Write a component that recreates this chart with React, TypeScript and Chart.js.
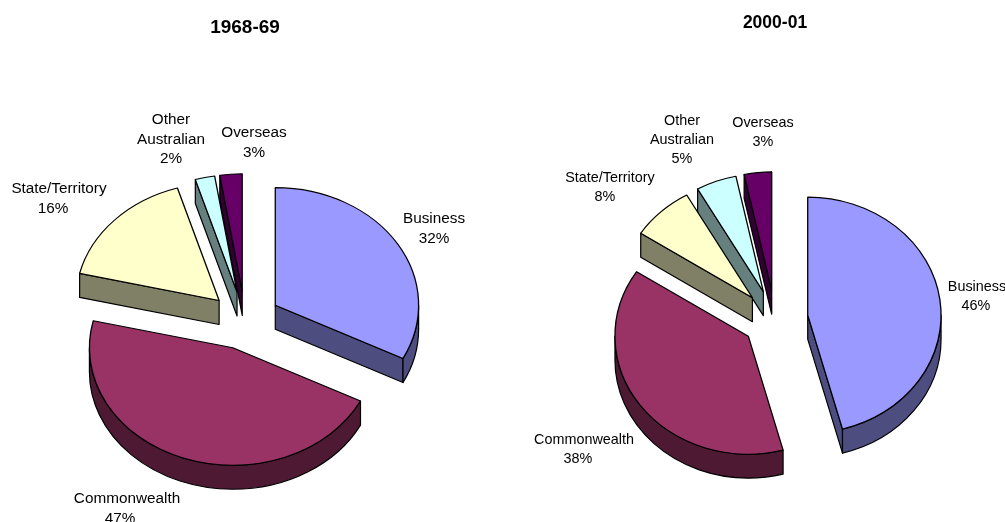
import React, { useEffect, useRef } from "react";
import { Chart, registerables } from "chart.js";

Chart.register(...registerables);

const categories = ["Business", "Commonwealth", "State/Territory", "Other Australian", "Overseas"];
// Percentages as printed on the labels
const labels1968 = [32, 47, 16, 2, 3];
const labels2000 = [46, 38, 8, 5, 3];
// Slice sizes as measured on the picture
const shares1968 = [32.5, 46.2, 16.6, 2.2, 2.5];
const shares2000 = [45.8, 38.4, 7.6, 4.9, 3.3];
const topColours = ["#9999FF", "#993366", "#FFFFCC", "#CCFFFF", "#660066"];
const sideColours = ["#4D4D80", "#4D1933", "#808066", "#668080", "#330033"];
const FONT = '"Liberation Sans", Arial, sans-serif';

// [x of name, y of first line, x of percent line]
const labelSpots1968 = [
  [434, 219, 434],
  [127, 499, 120],
  [59, 189, 53],
  [171, 120, 171],
  [254, 133, 254],
];
const labelSpots2000 = [
  [977, 287, 976],
  [584, 440, 578],
  [610, 178, 605],
  [682, 121, 682],
  [763, 123, 763],
];

type PieCfg = {
  title: string;
  values: number[];
  labels: number[];
  spots: number[][];
  left: number;
  width: number;
  cx: number;
  cy: number;
  r: number;
  tilt: number;
  explode: number;
  depth: number;
  titleSize: number;
  titleY: number;
  labelSize: number;
  lineGap: number;
};

const pies: PieCfg[] = [
  { title: "1968-69", values: shares1968, labels: labels1968, spots: labelSpots1968, left: 0, width: 490, cx: 245, cy: 320.4, r: 144, tilt: 0.82, explode: 35.5, depth: 24, titleSize: 19, titleY: 28, labelSize: 15.3, lineGap: 19.3 },
  { title: "2000-01", values: shares2000, labels: labels2000, spots: labelSpots2000, left: 515, width: 520, cx: 775, cy: 319, r: 134, tilt: 0.885, explode: 33, depth: 24, titleSize: 17.5, titleY: 23, labelSize: 14.4, lineGap: 19.2 },
];

function makePlugin(p: PieCfg) {
  return {
    id: "pie3d",
    beforeDatasetDraw(chart: any) {
      const ctx: CanvasRenderingContext2D = chart.ctx;
      const arcs: any[] = chart.getDatasetMeta(0).data;
      const order = arcs.map((_, i) => i).reverse();
      order.forEach((i) => {
        const arc = arcs[i];
        const { x, y, startAngle: a1, endAngle: a2, outerRadius: r } = arc;
        const mid = (a1 + a2) / 2;
        const ax = x + Math.cos(mid) * p.explode;
        const ay = y + Math.sin(mid) * p.explode * p.tilt;
        const ry = r * p.tilt;
        ctx.save();
        ctx.fillStyle = sideColours[i];
        ctx.strokeStyle = "#000";
        ctx.lineWidth = 1.2;
        ctx.lineJoin = "round";
        const face = (a: number) => {
          const ex = ax + Math.cos(a) * r;
          const ey = ay + Math.sin(a) * ry;
          ctx.beginPath();
          ctx.moveTo(ax, ay);
          ctx.lineTo(ex, ey);
          ctx.lineTo(ex, ey + p.depth);
          ctx.lineTo(ax, ay + p.depth);
          ctx.closePath();
          ctx.fill();
          ctx.stroke();
        };
        if (Math.cos(a1) < 0) face(a1);
        if (Math.cos(a2) > 0) face(a2);
        const from = Math.max(a1, 0);
        const to = Math.min(a2, Math.PI);
        if (to > from) {
          ctx.beginPath();
          ctx.ellipse(ax, ay, r, ry, 0, from, to);
          ctx.ellipse(ax, ay + p.depth, r, ry, 0, to, from, true);
          ctx.closePath();
          ctx.fill();
          ctx.stroke();
        }
        ctx.restore();

        ctx.save();
        ctx.translate(ax, ay);
        ctx.scale(1, p.tilt);
        ctx.translate(-x, -y);
        arc.draw(ctx);
        ctx.restore();
      });
      return false;
    },
    afterDatasetsDraw(chart: any) {
      const ctx: CanvasRenderingContext2D = chart.ctx;
      ctx.save();
      ctx.font = `${p.labelSize}px ${FONT}`;
      ctx.fillStyle = "#000";
      ctx.textAlign = "center";
      ctx.textBaseline = "middle";
      categories.forEach((name, i) => {
        const [nx, ny, px] = p.spots[i];
        const lines = name === "Other Australian" ? ["Other", "Australian"] : [name];
        lines.forEach((line, k) => ctx.fillText(line, nx - p.left, ny + k * p.lineGap));
        ctx.fillText(`${p.labels[i]}%`, px - p.left, ny + lines.length * p.lineGap);
      });
      ctx.restore();
    },
  };
}

function Pie({ cfg }: { cfg: PieCfg }) {
  const ref = useRef<HTMLCanvasElement>(null);
  useEffect(() => {
    const localCx = cfg.cx - cfg.left;
    const lineH = cfg.titleSize * 1.2;
    const top = cfg.cy - cfg.r;
    const titleTop = cfg.titleY - lineH / 2;
    const chart = new Chart(ref.current as HTMLCanvasElement, {
      type: "pie",
      data: {
        labels: categories,
        datasets: [
          {
            data: cfg.values,
            backgroundColor: topColours,
            borderColor: "#000",
            borderWidth: 1.3,
          },
        ],
      },
      options: {
        responsive: false,
        animation: false,
        layout: {
          padding: {
            left: localCx - cfg.r,
            right: cfg.width - localCx - cfg.r,
            top: 0,
            bottom: 522 - (cfg.cy + cfg.r),
          },
        },
        plugins: {
          legend: { display: false },
          tooltip: { enabled: false },
          title: {
            display: true,
            text: cfg.title,
            color: "#000",
            font: { family: FONT, size: cfg.titleSize, weight: "bold", lineHeight: 1.2 },
            padding: { top: titleTop, bottom: top - titleTop - lineH },
          },
        },
      } as any,
      plugins: [makePlugin(cfg) as any],
    });
    return () => chart.destroy();
  }, [cfg]);
  return (
    <canvas
      ref={ref}
      width={cfg.width}
      height={522}
      style={{ position: "absolute", left: cfg.left, top: 0, width: cfg.width, height: 522, display: "block" }}
    />
  );
}

export default function App() {
  return (
    <div style={{ position: "fixed", left: 0, top: 0, width: 1005, height: 522, overflow: "hidden", background: "#fff" }}>
      {pies.map((p) => (
        <Pie key={p.title} cfg={p} />
      ))}
    </div>
  );
}
